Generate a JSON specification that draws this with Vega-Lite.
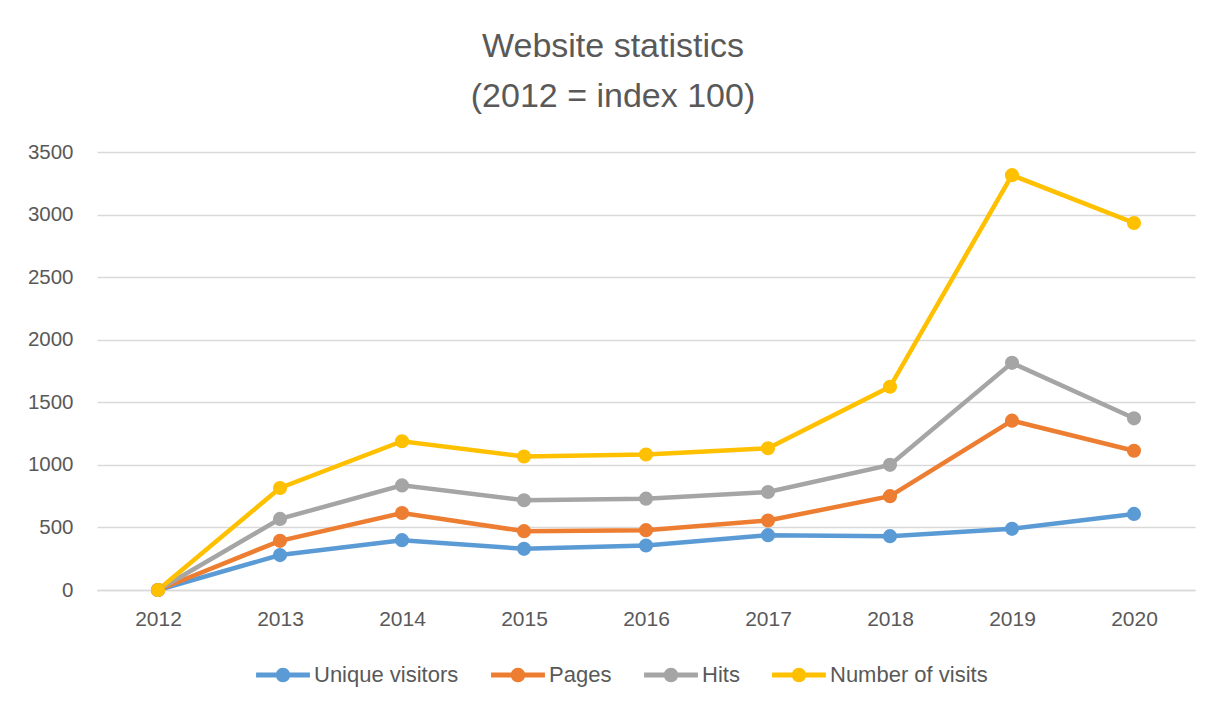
{
  "$schema": "https://vega.github.io/schema/vega-lite/v6.json",
  "width": 1098,
  "height": 438,
  "autosize": {"type": "none"},
  "padding": {"left": 97, "top": 152, "right": 31, "bottom": 116},
  "background": "white",
  "config": {
    "font": "Liberation Sans",
    "view": {"stroke": null},
    "axis": {"labelColor": "#595959", "labelFont": "Liberation Sans"}
  },
  "title": {
    "text": ["Website statistics", "(2012 = index 100)"],
    "fontSize": 34,
    "fontWeight": "normal",
    "color": "#595959",
    "lineHeight": 50,
    "anchor": "middle",
    "dx": -33,
    "offset": 28
  },
  "data": {
    "values": [
      {"year": "2012", "series": "Unique visitors", "value": 0},
      {"year": "2013", "series": "Unique visitors", "value": 279},
      {"year": "2014", "series": "Unique visitors", "value": 398},
      {"year": "2015", "series": "Unique visitors", "value": 329},
      {"year": "2016", "series": "Unique visitors", "value": 356},
      {"year": "2017", "series": "Unique visitors", "value": 438},
      {"year": "2018", "series": "Unique visitors", "value": 430},
      {"year": "2019", "series": "Unique visitors", "value": 489},
      {"year": "2020", "series": "Unique visitors", "value": 608},
      {"year": "2012", "series": "Pages", "value": 0},
      {"year": "2013", "series": "Pages", "value": 393},
      {"year": "2014", "series": "Pages", "value": 615},
      {"year": "2015", "series": "Pages", "value": 470},
      {"year": "2016", "series": "Pages", "value": 478},
      {"year": "2017", "series": "Pages", "value": 555},
      {"year": "2018", "series": "Pages", "value": 750},
      {"year": "2019", "series": "Pages", "value": 1353},
      {"year": "2020", "series": "Pages", "value": 1113},
      {"year": "2012", "series": "Hits", "value": 0},
      {"year": "2013", "series": "Hits", "value": 568},
      {"year": "2014", "series": "Hits", "value": 836},
      {"year": "2015", "series": "Hits", "value": 717},
      {"year": "2016", "series": "Hits", "value": 730},
      {"year": "2017", "series": "Hits", "value": 783},
      {"year": "2018", "series": "Hits", "value": 1000},
      {"year": "2019", "series": "Hits", "value": 1815},
      {"year": "2020", "series": "Hits", "value": 1372},
      {"year": "2012", "series": "Number of visits", "value": 0},
      {"year": "2013", "series": "Number of visits", "value": 815},
      {"year": "2014", "series": "Number of visits", "value": 1189},
      {"year": "2015", "series": "Number of visits", "value": 1067},
      {"year": "2016", "series": "Number of visits", "value": 1083},
      {"year": "2017", "series": "Number of visits", "value": 1133},
      {"year": "2018", "series": "Number of visits", "value": 1624},
      {"year": "2019", "series": "Number of visits", "value": 3315},
      {"year": "2020", "series": "Number of visits", "value": 2933}
    ]
  },
  "encoding": {
    "x": {
      "field": "year",
      "type": "ordinal",
      "scale": {"type": "point", "padding": 0.5},
      "axis": {
        "title": null,
        "labelAngle": 0,
        "labelFontSize": 21,
        "labelPadding": 18,
        "ticks": false,
        "domain": true,
        "domainColor": "#d9d9d9",
        "domainWidth": 1.5,
        "grid": false
      }
    },
    "y": {
      "field": "value",
      "type": "quantitative",
      "scale": {"domain": [0, 3500], "nice": false},
      "axis": {
        "title": null,
        "format": "d",
        "values": [0, 500, 1000, 1500, 2000, 2500, 3000, 3500],
        "labelFontSize": 20.5,
        "labelPadding": 24,
        "ticks": false,
        "domain": false,
        "gridColor": "#d9d9d9",
        "gridWidth": 1.5
      }
    },
    "color": {
      "field": "series",
      "type": "nominal",
      "scale": {
        "domain": ["Unique visitors", "Pages", "Hits", "Number of visits"],
        "range": ["#5B9BD5", "#ED7D31", "#A5A5A5", "#FFC000"]
      },
      "legend": {
        "title": null,
        "orient": "none",
        "direction": "horizontal",
        "legendX": 159,
        "legendY": 496,
        "labelFontSize": 22,
        "labelColor": "#595959",
        "labelOffset": 4,
        "columnPadding": 32,
        "symbolType": "M-1,-0.09L1,-0.09L1,0.09L-1,0.09Z M-0.27,0 A0.27,0.27 0 1,1 0.27,0 A0.27,0.27 0 1,1 -0.27,0Z",
        "symbolSize": 2900,
        "symbolStrokeWidth": 0,
        "encode": {
          "symbols": {
            "update": {
              "fill": {"scale": "color", "field": "value"},
              "strokeWidth": {"value": 0},
              "opacity": {"value": 1}
            }
          }
        }
      }
    }
  },
  "layer": [
    {"mark": {"type": "line", "strokeWidth": 4.5}},
    {"mark": {"type": "point", "filled": true, "size": 200, "opacity": 1}}
  ]
}
